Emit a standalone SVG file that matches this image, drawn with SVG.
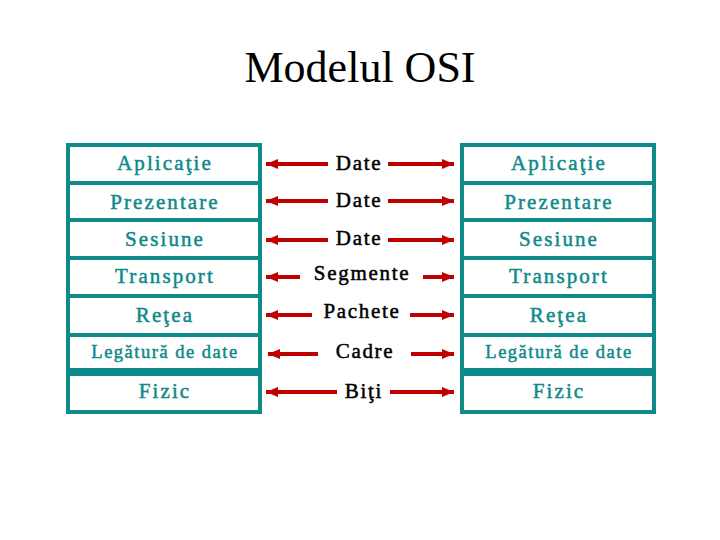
<svg xmlns="http://www.w3.org/2000/svg" width="720" height="540" viewBox="0 0 720 540">
<style>
.bg{fill:#ffffff}
.layer rect{fill:#ffffff;stroke:#0e8a8a;stroke-width:4}
.lt{font-family:"Liberation Serif","Times New Roman",serif;font-size:21px;fill:#0e8a8a;stroke:#0e8a8a;stroke-width:0.5px;text-anchor:middle;letter-spacing:2.1px}
.sm{font-size:18.5px;letter-spacing:1.5px}
.mid{font-family:"Liberation Serif","Times New Roman",serif;font-size:21px;fill:#000000;stroke:#000000;stroke-width:0.5px;text-anchor:middle;letter-spacing:1.7px}
.title{font-family:"Liberation Serif","Times New Roman",serif;font-size:44px;fill:#000000;text-anchor:middle}
.arr{stroke:#c00000;stroke-width:4;fill:none;marker-end:url(#ah)}
</style>
<defs>
<marker id="ah" markerUnits="userSpaceOnUse" markerWidth="14" markerHeight="12" refX="12" refY="5" orient="auto">
<path d="M0,0 L12,5 L0,10 z" fill="#c00000"/>
</marker>
</defs>
<rect class="bg" x="0" y="0" width="720" height="540"/>
<text class="title" x="360" y="82">Modelul OSI</text>

<g id="left-stack">
<g id="l-aplicatie" class="layer"><rect x="68" y="145" width="192" height="38"/><text class="lt" x="165" y="170">Aplicaţie</text></g>
<g id="l-prezentare" class="layer"><rect x="68" y="183" width="192" height="37"/><text class="lt" x="165" y="209">Prezentare</text></g>
<g id="l-sesiune" class="layer"><rect x="68" y="220" width="192" height="38"/><text class="lt" x="165" y="246">Sesiune</text></g>
<g id="l-transport" class="layer"><rect x="68" y="258" width="192" height="38"/><text class="lt" x="165" y="283">Transport</text></g>
<g id="l-retea" class="layer"><rect x="68" y="296" width="192" height="39"/><text class="lt" x="165" y="322">Reţea</text></g>
<g id="l-legatura" class="layer"><rect x="68" y="335" width="192" height="35"/><text class="lt sm" x="165" y="358">Legătură de date</text></g>
<g id="l-fizic" class="layer"><rect x="68" y="374" width="192" height="38"/><text class="lt" x="165" y="398">Fizic</text></g>
</g>

<g id="right-stack">
<g id="r-aplicatie" class="layer"><rect x="462" y="145" width="192" height="38"/><text class="lt" x="559" y="170">Aplicaţie</text></g>
<g id="r-prezentare" class="layer"><rect x="462" y="183" width="192" height="37"/><text class="lt" x="559" y="209">Prezentare</text></g>
<g id="r-sesiune" class="layer"><rect x="462" y="220" width="192" height="38"/><text class="lt" x="559" y="246">Sesiune</text></g>
<g id="r-transport" class="layer"><rect x="462" y="258" width="192" height="38"/><text class="lt" x="559" y="283">Transport</text></g>
<g id="r-retea" class="layer"><rect x="462" y="296" width="192" height="39"/><text class="lt" x="559" y="322">Reţea</text></g>
<g id="r-legatura" class="layer"><rect x="462" y="335" width="192" height="35"/><text class="lt sm" x="559" y="358">Legătură de date</text></g>
<g id="r-fizic" class="layer"><rect x="462" y="374" width="192" height="38"/><text class="lt" x="559" y="398">Fizic</text></g>
</g>

<g id="connectors">
<line class="arr" x1="328" y1="164" x2="266" y2="164"/>
<line class="arr" x1="388" y1="164" x2="454" y2="164"/>
<line class="arr" x1="328" y1="201" x2="266" y2="201"/>
<line class="arr" x1="388" y1="201" x2="454" y2="201"/>
<line class="arr" x1="328" y1="240" x2="266" y2="240"/>
<line class="arr" x1="388" y1="240" x2="454" y2="240"/>
<line class="arr" x1="300" y1="277" x2="266" y2="277"/>
<line class="arr" x1="423" y1="277" x2="454" y2="277"/>
<line class="arr" x1="312" y1="315" x2="266" y2="315"/>
<line class="arr" x1="410" y1="315" x2="454" y2="315"/>
<line class="arr" x1="318" y1="354" x2="268" y2="354"/>
<line class="arr" x1="411" y1="354" x2="454" y2="354"/>
<line class="arr" x1="337" y1="392" x2="266" y2="392"/>
<line class="arr" x1="390" y1="392" x2="454" y2="392"/>
</g>

<g id="labels">
<text class="mid" x="359" y="170">Date</text>
<text class="mid" x="359" y="207">Date</text>
<text class="mid" x="359" y="245">Date</text>
<text class="mid" x="362" y="280">Segmente</text>
<text class="mid" x="362" y="318">Pachete</text>
<text class="mid" x="365" y="358">Cadre</text>
<text class="mid" x="364" y="398">Biţi</text>
</g>
</svg>
